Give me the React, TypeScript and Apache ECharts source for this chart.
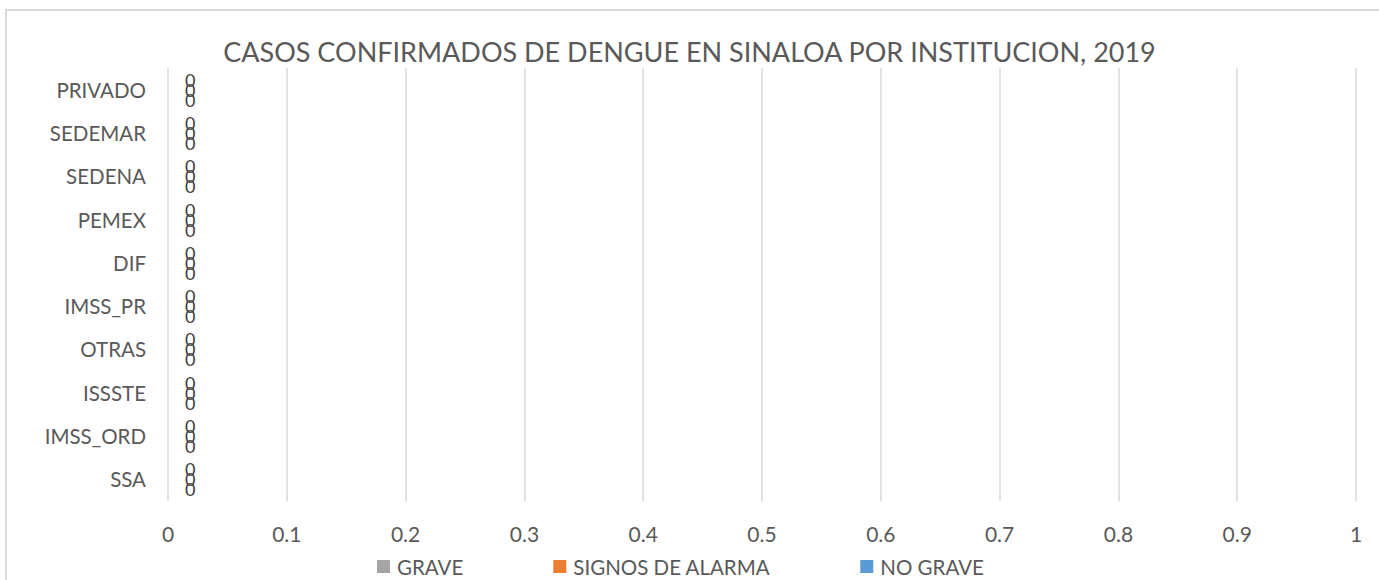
import React, { useEffect, useRef } from "react";
import * as echarts from "echarts";

const categories = ["SSA", "IMSS_ORD", "ISSSTE", "OTRAS", "IMSS_PR", "DIF", "PEMEX", "SEDENA", "SEDEMAR", "PRIVADO"];
const seriesNames = ["GRAVE", "SIGNOS DE ALARMA", "NO GRAVE"];
const grave = [0, 0, 0, 0, 0, 0, 0, 0, 0, 0];
const signosAlarma = [0, 0, 0, 0, 0, 0, 0, 0, 0, 0];
const noGrave = [0, 0, 0, 0, 0, 0, 0, 0, 0, 0];
const colors = ["#a5a5a5", "#ed7d31", "#5b9bd5"];
const titleText = "CASOS CONFIRMADOS DE DENGUE EN SINALOA POR INSTITUCION, 2019";

const FONT = "Lato";

export default function App() {
  const ref = useRef<HTMLDivElement>(null);
  useEffect(() => {
    const chart = echarts.init(ref.current!, null, { renderer: "svg" });
    const values = [grave, signosAlarma, noGrave];
    chart.setOption({
      animation: false,
      backgroundColor: "#ffffff",
      textStyle: { fontFamily: FONT },
      title: {
        text: titleText,
        left: "center",
        top: 38,
        padding: 0,
        textStyle: { fontFamily: FONT, fontSize: 27, fontWeight: "normal", color: "#595959" },
      },
      graphic: [
        {
          type: "rect",
          shape: { x: 6, y: 10, width: 1420, height: 620 },
          style: { fill: "none", stroke: "#d9d9d9", lineWidth: 2 },
          silent: true,
        },
      ],
      legend: {
        left: 377,
        top: 556,
        padding: 0,
        itemWidth: 13,
        itemHeight: 13,
        itemGap: 90,
        icon: "rect",
        textStyle: { fontFamily: FONT, fontSize: 20.5, color: "#595959", padding: [0, 0, 0, 2] },
        data: seriesNames,
      },
      grid: { left: 168, right: 23, top: 68, bottom: 79, containLabel: false },
      xAxis: {
        type: "value",
        min: 0,
        max: 1,
        interval: 0.1,
        axisLine: { show: false },
        axisTick: { show: false },
        splitLine: { show: true, lineStyle: { color: "#d9d9d9", width: 1.5 } },
        axisLabel: { fontFamily: FONT, fontSize: 21, color: "#595959", margin: 22 },
      },
      yAxis: {
        type: "category",
        data: categories,
        axisLine: { show: false },
        axisTick: { show: false },
        axisLabel: { fontFamily: FONT, fontSize: 20.5, color: "#595959", margin: 22 },
      },
      series: seriesNames.map((name, i) => ({
        name,
        type: "bar",
        data: values[i],
        barWidth: 10,
        barGap: "0%",
        itemStyle: { color: colors[i] },
        label: {
          show: true,
          position: "right",
          distance: 17,
          fontFamily: FONT,
          fontSize: 18,
          color: "#404040",
        },
      })),
    });
    return () => chart.dispose();
  }, []);
  return (
    <div
      ref={ref}
      style={{ position: "fixed", left: 0, top: 0, width: 1379, height: 580 }}
    />
  );
}
